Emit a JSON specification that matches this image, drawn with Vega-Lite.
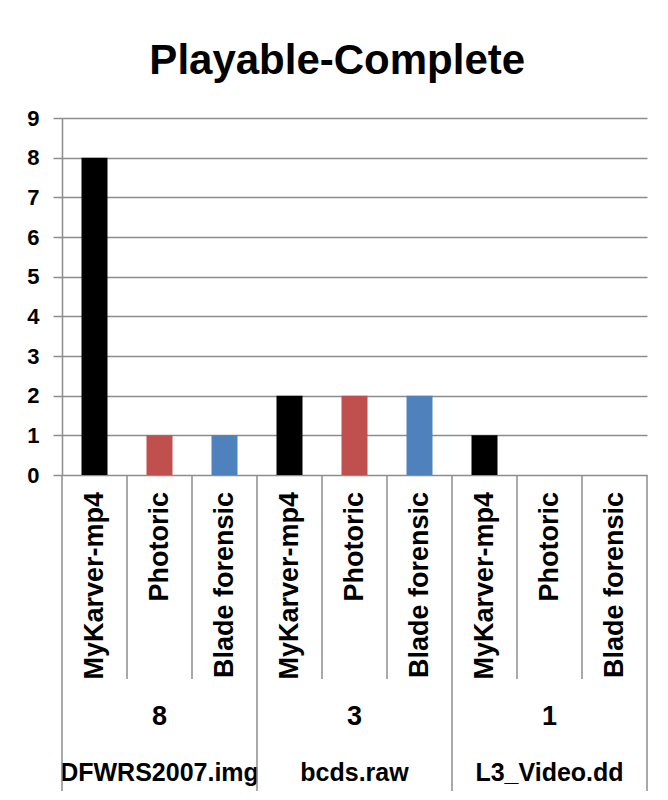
{
  "$schema": "https://vega.github.io/schema/vega-lite/v6.json",
  "padding": {"left": 26, "top": 40, "right": 21, "bottom": 0},
  "background": "white",
  "bounds": "flush",
  "title": {"text": "Playable-Complete", "font": "Liberation Sans", "fontSize": 42, "fontWeight": "bold", "color": "black", "anchor": "middle", "offset": 24},
  "config": {"view": {"stroke": null}, "concat": {"spacing": 0}},
  "spacing": 0,
  "datasets": {
    "bars": [
      {"dataset": "DFWRS2007.img", "tool": "MyKarver-mp4", "key": "DFWRS2007.img MyKarver-mp4", "files": 8},
      {"dataset": "DFWRS2007.img", "tool": "Photoric", "key": "DFWRS2007.img Photoric", "files": 1},
      {"dataset": "DFWRS2007.img", "tool": "Blade forensic", "key": "DFWRS2007.img Blade forensic", "files": 1},
      {"dataset": "bcds.raw", "tool": "MyKarver-mp4", "key": "bcds.raw MyKarver-mp4", "files": 2},
      {"dataset": "bcds.raw", "tool": "Photoric", "key": "bcds.raw Photoric", "files": 2},
      {"dataset": "bcds.raw", "tool": "Blade forensic", "key": "bcds.raw Blade forensic", "files": 2},
      {"dataset": "L3_Video.dd", "tool": "MyKarver-mp4", "key": "L3_Video.dd MyKarver-mp4", "files": 1},
      {"dataset": "L3_Video.dd", "tool": "Photoric", "key": "L3_Video.dd Photoric", "files": 0},
      {"dataset": "L3_Video.dd", "tool": "Blade forensic", "key": "L3_Video.dd Blade forensic", "files": 0}
    ],
    "groups": [
      {"dataset": "DFWRS2007.img", "count": "8"},
      {"dataset": "bcds.raw", "count": "3"},
      {"dataset": "L3_Video.dd", "count": "1"}
    ]
  },
  "vconcat": [
    {
      "width": 585,
      "height": 357,
      "data": {"name": "bars"},
      "mark": {"type": "bar", "width": {"band": 0.4}},
      "encoding": {
        "x": {"field": "key", "type": "nominal", "sort": null, "scale": {"paddingInner": 0, "paddingOuter": 0}, "axis": null},
        "y": {
          "field": "files", "type": "quantitative", "scale": {"domain": [0, 9]},
          "axis": {"values": [0, 1, 2, 3, 4, 5, 6, 7, 8, 9], "title": null, "grid": true, "gridColor": "#8c8c8c", "gridWidth": 1.5,
            "domainColor": "#8c8c8c", "domainWidth": 1.5, "tickColor": "#8c8c8c", "tickWidth": 1.5, "tickSize": 9,
            "labelFont": "Liberation Sans", "labelFontSize": 22, "labelFontWeight": "bold", "labelColor": "black", "labelPadding": 14}
        },
        "color": {"field": "tool", "type": "nominal", "scale": {"domain": ["MyKarver-mp4", "Photoric", "Blade forensic"], "range": ["#000000", "#C0504D", "#4F81BD"]}, "legend": null}
      }
    },
    {
      "width": 585,
      "height": 204,
      "data": {"name": "bars"},
      "layer": [
        {
          "mark": {"type": "text", "angle": 270, "font": "Liberation Sans", "fontSize": 27, "fontWeight": "bold", "color": "black", "dx": 85, "baseline": "middle", "align": "right"},
          "encoding": {
            "x": {"field": "key", "type": "nominal", "sort": null, "scale": {"paddingInner": 0, "paddingOuter": 0}, "axis": null},
            "text": {"field": "tool"}
          }
        },
        {
          "mark": {"type": "rule", "color": "#8c8c8c", "strokeWidth": 1.5},
          "encoding": {
            "x": {"field": "key", "type": "nominal", "sort": null, "bandPosition": 0, "axis": null}
          }
        },
        {
          "transform": [{"filter": "datum.key === 'L3_Video.dd Blade forensic'"}],
          "mark": {"type": "rule", "color": "#8c8c8c", "strokeWidth": 1.5},
          "encoding": {
            "x": {"field": "key", "type": "nominal", "sort": null, "bandPosition": 1, "axis": null}
          }
        }
      ]
    },
    {
      "width": 585,
      "height": 76,
      "data": {"name": "groups"},
      "layer": [
        {
          "mark": {"type": "text", "font": "Liberation Sans", "fontSize": 27, "fontWeight": "bold", "color": "black", "baseline": "middle"},
          "encoding": {
            "x": {"field": "dataset", "type": "nominal", "sort": null, "scale": {"paddingInner": 0, "paddingOuter": 0}, "axis": null},
            "text": {"field": "count"}
          }
        },
        {
          "mark": {"type": "rule", "color": "#8c8c8c", "strokeWidth": 1.5},
          "encoding": {"x": {"field": "dataset", "type": "nominal", "sort": null, "bandPosition": 0, "axis": null}}
        },
        {
          "transform": [{"filter": "datum.dataset === 'L3_Video.dd'"}],
          "mark": {"type": "rule", "color": "#8c8c8c", "strokeWidth": 1.5},
          "encoding": {"x": {"field": "dataset", "type": "nominal", "sort": null, "bandPosition": 1, "axis": null}}
        }
      ]
    },
    {
      "width": 585,
      "height": 36,
      "data": {"name": "groups"},
      "layer": [
        {
          "mark": {"type": "text", "font": "Liberation Sans", "fontSize": 25, "fontWeight": "bold", "color": "black", "baseline": "middle"},
          "encoding": {
            "x": {"field": "dataset", "type": "nominal", "sort": null, "scale": {"paddingInner": 0, "paddingOuter": 0}, "axis": null},
            "text": {"field": "dataset"}
          }
        },
        {
          "mark": {"type": "rule", "color": "#8c8c8c", "strokeWidth": 1.5},
          "encoding": {"x": {"field": "dataset", "type": "nominal", "sort": null, "bandPosition": 0, "axis": null}}
        },
        {
          "transform": [{"filter": "datum.dataset === 'L3_Video.dd'"}],
          "mark": {"type": "rule", "color": "#8c8c8c", "strokeWidth": 1.5},
          "encoding": {"x": {"field": "dataset", "type": "nominal", "sort": null, "bandPosition": 1, "axis": null}}
        }
      ]
    }
  ]
}
